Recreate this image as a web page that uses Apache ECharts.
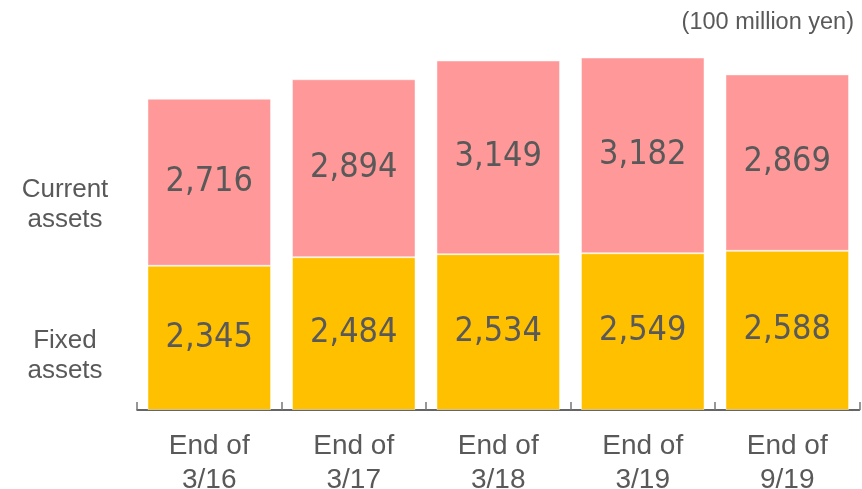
<!DOCTYPE html>
<html>
<head>
<meta charset="utf-8">
<script src="https://cdn.jsdelivr.net/npm/echarts@6/dist/echarts.min.js"></script>
<style>
  html, body { margin: 0; padding: 0; background: #fff; }
  #chart { width: 862px; height: 489px; }
</style>
</head>
<body>
<div id="chart"></div>
<script>
// data
const categories = ["End of\n3/16", "End of\n3/17", "End of\n3/18", "End of\n3/19", "End of\n9/19"];
const fixedAssets = [2345, 2484, 2534, 2549, 2588];
const currentAssets = [2716, 2894, 3149, 3182, 2869];
const seriesNames = ["Fixed\nassets", "Current\nassets"];
const unitText = "(100 million yen)";

const textGray = "#595959";
const fmt = (p) => p.value.toLocaleString("en-US");

const valueLabel = {
  show: true,
  position: "inside",
  color: textGray,
  fontFamily: "'DejaVu Sans Condensed', 'DejaVu Sans'",
  fontSize: 34,
  formatter: fmt,
};

const sideLabel = (text, y) => ({
  type: "text",
  x: 65,
  y: y,
  style: {
    text: text,
    fill: textGray,
    font: "26px 'Liberation Sans'",
    align: "center",
    verticalAlign: "middle",
    lineHeight: 30,
  },
});

const chart = echarts.init(document.getElementById("chart"));
chart.setOption({
  animation: false,
  grid: { left: 137, right: 2.5, top: 41, bottom: 79, outerBoundsMode: "none" },
  xAxis: {
    type: "category",
    data: categories,
    axisLine: { lineStyle: { color: "#333", width: 1.5 } },
    axisTick: { show: true, inside: true, length: 8, lineStyle: { color: "#777", width: 1.5 } },
    axisLabel: {
      color: textGray,
      fontFamily: "Liberation Sans",
      fontSize: 28,
      lineHeight: 34,
      margin: 19,
    },
  },
  yAxis: {
    type: "value",
    min: 0,
    max: 6000,
    show: false,
  },
  series: [
    {
      name: seriesNames[0],
      type: "bar",
      stack: "total",
      data: fixedAssets,
      barCategoryGap: "14.5%",
      itemStyle: { color: "#FFC000", borderColor: "rgba(255,255,255,0.45)", borderWidth: 1 },
      label: valueLabel,
    },
    {
      name: seriesNames[1],
      type: "bar",
      stack: "total",
      data: currentAssets,
      barCategoryGap: "14.5%",
      itemStyle: { color: "#FF9999", borderColor: "rgba(255,255,255,0.45)", borderWidth: 1 },
      label: valueLabel,
    },
  ],
  graphic: [
    sideLabel(seriesNames[1], 205),
    sideLabel(seriesNames[0], 356),
    {
      type: "text",
      right: 8,
      top: 11,
      style: {
        text: unitText,
        fill: textGray,
        font: "23.5px 'Liberation Sans'",
      },
    },
  ],
});
</script>
</body>
</html>
